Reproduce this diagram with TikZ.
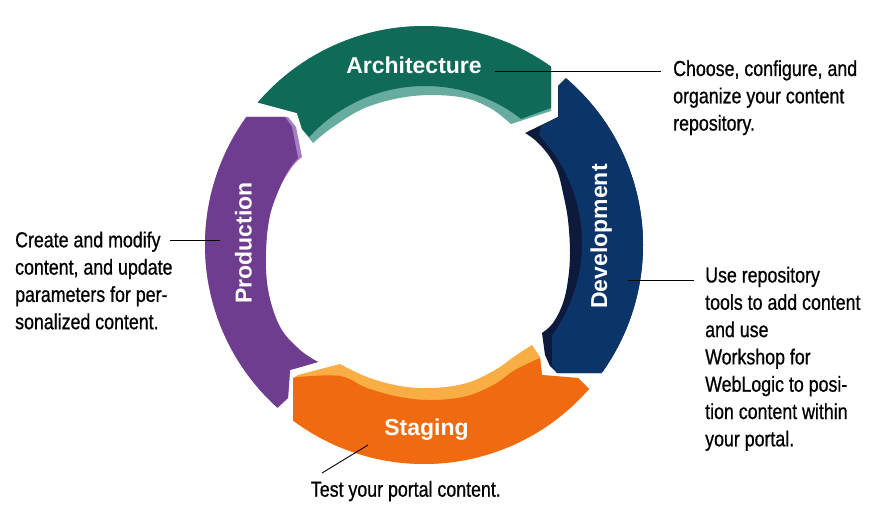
\documentclass[tikz,border=0pt]{standalone}
\usepackage{fontspec}
\newfontfamily\narrowfont[FakeStretch=0.82,FakeBold=0.7]{Liberation Sans}
\newfontfamily\labelfont{Liberation Sans}
\definecolor{arch}{HTML}{0F6A58}
\definecolor{archW}{HTML}{67AC9E}
\definecolor{dev}{HTML}{0B3468}
\definecolor{devW}{HTML}{0D1A3C}
\definecolor{stg}{HTML}{F06A10}
\definecolor{stgW}{HTML}{F8AE45}
\definecolor{prod}{HTML}{6E3D8F}
\definecolor{prodW}{HTML}{A57DC0}
\newcommand\OArc[2]{plot[domain=#1:#2,samples=70,variable=\q] ({424+219*cos(\q)},{245+219*sin(\q)})}
\newcommand\FArcTo[2]{-- plot[domain=#1:#2,samples=60,variable=\q] ({425+157*cos(\q)},{243+157*sin(\q)})}
\tikzset{
  seglabel/.style={anchor=base, inner sep=0pt, text=white, font=\labelfont\bfseries\fontsize{23}{27}\selectfont},
  note/.style={anchor=base west, inner sep=0pt, font=\narrowfont\fontsize{21.7}{27.3}\selectfont},
  leader/.style={draw=black, line width=0.9pt}
}
\begin{document}
\begin{tikzpicture}[x=1pt,y={(0pt,-1pt)}]
\useasboundingbox (0,0) rectangle (875,508);
\fill[white] (0,0) rectangle (875,508);

% Architecture
\fill[archW] \OArc{-139.4}{-54.5} -- (551,111) -- (511,124)
  -- plot[smooth,tension=0.6] coordinates {(511,124) (490,108) (460,97) (413,96) (367,107) (333,127) (313,143)}
  -- (302,129) -- (297,113) -- cycle;
\fill[arch] \OArc{-139.4}{-54.5} -- (551,108) -- (537,113) -- (521,119)
  \FArcTo{-52.3}{-137.5} -- (302,129) -- (297,113) -- cycle;

% Development
\fill[devW] \OArc{-49.6}{35.8} -- (557,373) -- (550,366) -- (545,355) -- (542,333)
  -- plot[smooth,tension=0.6] coordinates {(542,333) (553,323) (563,303) (568,280) (570,253) (568,220) (563,193) (557,170) (547,153) (535,140) (525,133)}
  -- (558,117) -- (558,86) -- cycle;
\fill[dev] \OArc{-49.6}{35.8} -- (557,373) -- (552,366)
  \FArcTo{35.9}{-43.4} -- (541,125.5) -- (558,117) -- (558,86) -- cycle;

% Staging
\fill[stgW] \OArc{41.1}{126.7} -- (293,378) -- (298,375) -- (340,364)
  -- plot[smooth,tension=0.6] coordinates {(340,364) (367,377) (400,386) (433,388) (467,383) (495,370) (515,356) (532,345)}
  -- (540,357) -- (542,375) -- (578,378) -- cycle;
\fill[stg] \OArc{41.1}{126.7} -- (293,378) -- (298,377)
  -- plot[smooth,tension=0.6] coordinates {(298,377) (340,376) (367,388) (400,397) (433,400) (467,396) (495,384) (515,370) (540,358)}
  -- (542,375) -- (578,378) -- cycle;

% Production
\fill[prodW] \OArc{132}{215.8} -- (288,117) -- (296,127) -- (302,157)
  -- plot[smooth,tension=0.6] coordinates {(302,157) (292,167) (280,187) (270,215) (266,250) (268,290) (280,327) (300,350) (318,362)}
  -- (290,370) -- (288,398) -- cycle;
\fill[prod] \OArc{132}{215.8} -- (285,117) -- (292,127) -- (298,158)
  -- plot[smooth,tension=0.6] coordinates {(298,158) (290,168) (280,187) (270,215) (266,250) (268,290) (280,327) (300,350) (318,362)}
  -- (290,370) -- (288,398) -- cycle;

% segment labels
\node[seglabel] (lA) at (414,73.3) {Architecture};
\node[seglabel,rotate=90] (lD) at (607,236.5) {Development};
\node[seglabel] (lS) at (426.5,435) {Staging};
\node[seglabel,rotate=90] (lP) at (251.5,243) {Production};

% notes
\node[note] (nA) at (673,76) {\vtop{\hbox{Choose, configure, and}\hbox{organize your content}\hbox{repository.}}};
\node[note] (nD) at (705,282.5) {\vtop{\hbox{Use repository}\hbox{tools to add content}\hbox{and use}\hbox{Workshop for}\hbox{WebLogic to posi-}\hbox{tion content within}\hbox{your portal.}}};
\node[note] (nP) at (15,247.3) {\vtop{\hbox{Create and modify}\hbox{content, and update}\hbox{parameters for per-}\hbox{sonalized content.}}};
\node[note] (nS) at (310.7,496.7) {Test your portal content.};

% leader lines
\coordinate (a1) at (495,71.3);
\coordinate (a2) at (661,71.3);
\coordinate (d1) at (628,280);
\coordinate (d2) at (694,280);
\coordinate (p1) at (220,240.7);
\coordinate (p2) at (170,240.7);
\coordinate (s1) at (368,445);
\coordinate (s2) at (322,473);
\draw[leader] (a1) -- (a2);
\draw[leader] (d1) -- (d2);
\draw[leader] (p1) -- (p2);
\draw[leader] (s1) -- (s2);
\end{tikzpicture}
\end{document}
